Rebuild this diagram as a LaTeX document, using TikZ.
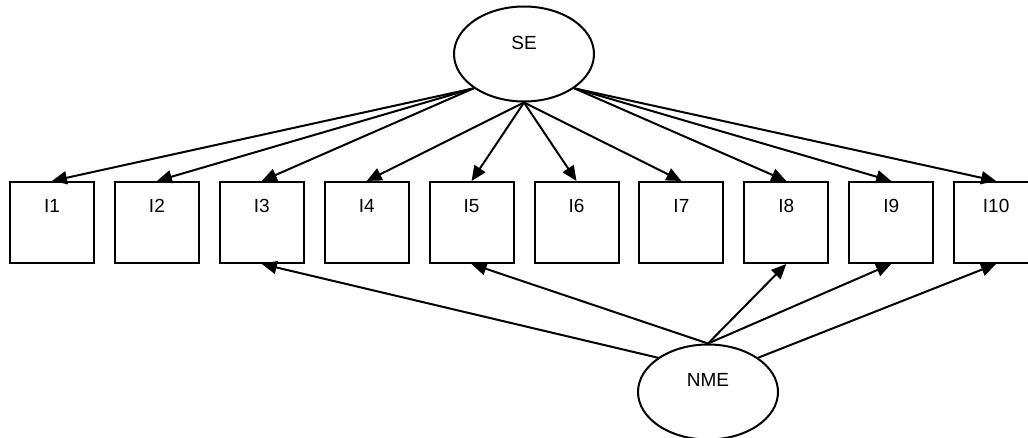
\documentclass[tikz,border=0pt]{standalone}
\usepackage{fontspec}
\setmainfont{Liberation Sans}
\usetikzlibrary{arrows.meta,shapes.geometric}

\tikzset{
  item/.style={draw, line width=2pt, minimum width=84pt, minimum height=81pt, inner sep=0pt},
  factor/.style={draw, ellipse, line width=2pt, minimum width=140pt, minimum height=95pt, inner sep=0pt},
  load/.style={line width=2pt, -{Triangle[length=15pt,width=13pt]}}
}

\begin{document}
\begin{tikzpicture}[x=1pt,y=-1pt,font=\fontsize{19}{22}\selectfont]
  \useasboundingbox (0,0) rectangle (1028,438);

  % latent factors
  \node[factor, label={[anchor=center,yshift=11pt]center:SE}] (se) at (524,54) {};
  \node[factor, label={[anchor=center,yshift=12pt]center:NME}] (nme) at (708,392) {};

  % indicators
  \foreach \i in {1,...,10}
    \node[item, label={[anchor=center,yshift=-25pt]north:I\i}] (i\i) at ({52+104.9*(\i-1)},222.5) {};

  % loadings on SE
  \foreach \i in {1,2,3}
    \draw[load] (se.south west) -- (i\i.north);
  \foreach \i in {4,...,7}
    \draw[load] (se.south) -- (i\i.north);
  \foreach \i in {8,9,10}
    \draw[load] (se.south east) -- (i\i.north);

  % loadings on NME
  \draw[load] (nme.north west) -- (i3.south);
  \foreach \i in {5,8,9}
    \draw[load] (nme.north) -- (i\i.south);
  \draw[load] (nme.north east) -- (i10.south);
\end{tikzpicture}
\end{document}
